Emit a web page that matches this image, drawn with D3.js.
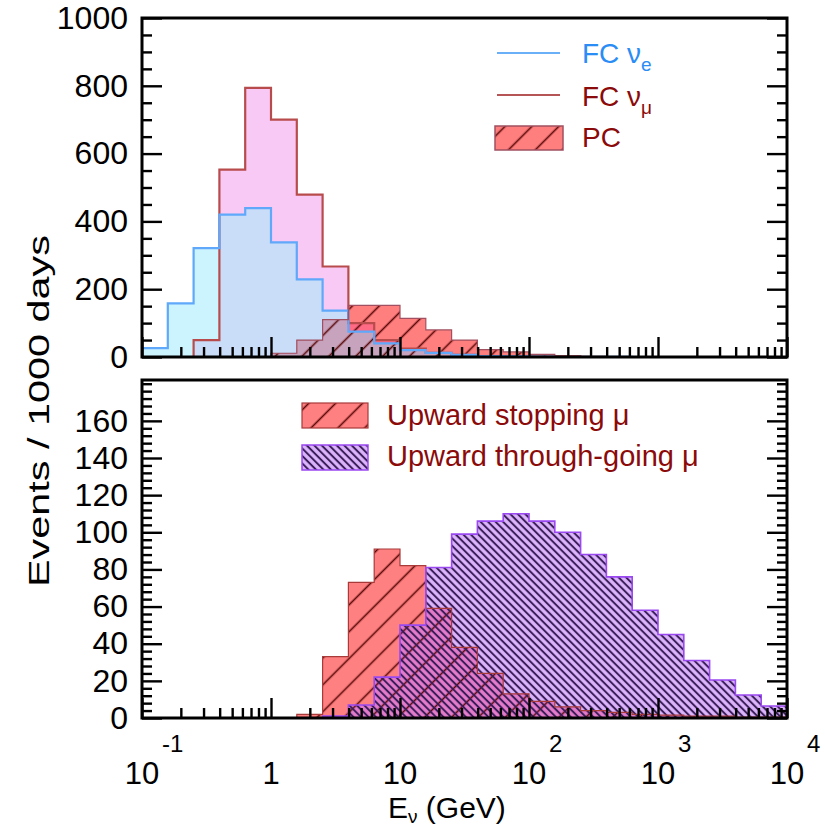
<!DOCTYPE html>
<html><head><meta charset="utf-8">
<script src="https://cdn.jsdelivr.net/npm/d3@7"></script>
<style>body{margin:0;background:#fff}svg{display:block}text{font-family:"Liberation Sans",Arial,Helvetica,sans-serif}</style>
</head><body>
<svg id="c" width="825" height="828"></svg>
<script>
// ---- data ----
const binExp = [-1,-0.8,-0.6,-0.4,-0.2,0,0.2,0.4,0.6,0.8,1,1.2,1.4,1.6,1.8,2,2.2,2.4,2.6,2.8,3,3.2,3.4,3.6,3.8,4];
const fcNuE  = [26,158,321,420,439,338,229,137,75,40,20,12,6,3,2,1,1,0.5,0.5,0,0,0,0,0,0];
const fcNuMu = [0,0,50,553,794,700,479,267,100,50,25,12,6,3,2,1,0.5,0,0,0,0,0,0,0,0];
const pcEv   = [0,0,0,0,0,11,50,110,152,152,114,80,50,22,15,8,4,2,1,0.5,0.5,0,0,0,0];
const upStop = [0,0,0,0,0,0,2,33,73,91,82,59,38,24,13,9,6,4,3,2,1.5,1,1,0.5,0.5];
const upThru = [0,0,0,0,0,0,0,1,7,22,50,81,99,106,110,106,100,88,76,58,45,31,20.5,12.4,6.5];
const topYTicks = [0,200,400,600,800,1000];
const botYTicks = [0,20,40,60,80,100,120,140,160];
const xTickVals = [0.1,1,10,100,1000,10000];
const xTickBase = ["10","1","10","10","10","10"];
const xTickExp  = ["-1","","","2","3","4"];
const topLegend = ["FC ν","FC ν","PC"];
const topLegendSub = ["e","μ",""];
const botLegend = ["Upward stopping μ","Upward through-going μ"];

// ---- layout ----
const svg = d3.select("#c");
const L = 142, R = 787;
const panels = {top:{t:18,b:357,max:1000}, bot:{t:380,b:718,max:182}};
const x = d3.scaleLog().domain([0.1,1e4]).range([L,R]);
const yT = d3.scaleLinear().domain([0,panels.top.max]).range([panels.top.b,panels.top.t]);
const yB = d3.scaleLinear().domain([0,panels.bot.max]).range([panels.bot.b,panels.bot.t]);
const edges = binExp.map(e=>Math.pow(10,e));

function pts(vals){
  const p=[[edges[0],0]];
  vals.forEach((v,i)=>p.push([edges[i],v]));
  p.push([edges[edges.length-1],vals[vals.length-1]]);
  p.push([edges[edges.length-1],0]);
  return p;
}
function areaGen(y){return d3.area().x(d=>x(d[0])).y0(y(0)).y1(d=>y(d[1])).curve(d3.curveStepAfter);}
function lineGen(y){return d3.line().x(d=>x(d[0])).y(d=>y(d[1])).curve(d3.curveStepAfter);}

const defs = svg.append("defs");
function hatch(id, angle, gap, color, w){
  const p = defs.append("pattern").attr("id",id).attr("patternUnits","userSpaceOnUse")
    .attr("width",gap).attr("height",gap).attr("patternTransform",`rotate(${angle})`);
  p.append("line").attr("x1",gap/2).attr("x2",gap/2).attr("y1",-1).attr("y2",gap+1)
    .attr("stroke",color).attr("stroke-width",w);
}
hatch("hPC",45,19,"#5a0808",1.6);
hatch("hStop",45,19,"#5a0808",1.6);
hatch("hThru",-45,5.3,"#3a1d58",2.0);

function clip(id, d){ defs.append("clipPath").attr("id",id).append("path").attr("d",d); }

// ---------- TOP PANEL ----------
const aT = areaGen(yT), lT = lineGen(yT);
const dMu = aT(pts(fcNuMu)), dE = aT(pts(fcNuE)), dPC = aT(pts(pcEv));
clip("cMu",dMu); clip("cE",dE); clip("cPC",dPC);
clip("cTopBox", `M${L},${panels.top.t}H${R}V${panels.top.b}H${L}Z`);
const gT = svg.append("g").attr("clip-path","url(#cTopBox)");
gT.append("path").attr("d",dMu).attr("fill","#f9c9f6");
gT.append("path").attr("d",dE).attr("fill","#ccf4ff");
gT.append("path").attr("d",dE).attr("fill","#c9dcf8").attr("clip-path","url(#cMu)");
gT.append("path").attr("d",dPC).attr("fill","#ff7e7e");
gT.append("g").attr("clip-path","url(#cMu)").append("path").attr("d",dPC).attr("fill","#ff6a84");
gT.append("g").attr("clip-path","url(#cE)").append("path").attr("d",dPC).attr("fill","#c7a3bd");
gT.append("path").attr("d",dPC).attr("fill","url(#hPC)");
gT.append("path").attr("d",lT(pts(fcNuMu))).attr("fill","none").attr("stroke","#b84c4c").attr("stroke-width",2.2);
gT.append("path").attr("d",lT(pts(fcNuE))).attr("fill","none").attr("stroke","#5fa8fa").attr("stroke-width",2.2);
gT.append("path").attr("d",lT(pts(pcEv))).attr("fill","none").attr("stroke","#a05060").attr("stroke-width",1.2);

// ---------- BOTTOM PANEL ----------
const aB = areaGen(yB), lB = lineGen(yB);
const dS = aB(pts(upStop)), dTh = aB(pts(upThru));
clip("cS",dS); clip("cTh",dTh);
const gB = svg.append("g");
gB.append("path").attr("d",dS).attr("fill","#ff8080");
gB.append("path").attr("d",dTh).attr("fill","#dcb5fc");
gB.append("g").attr("clip-path","url(#cS)").append("path").attr("d",dTh).attr("fill","#e47ccb");
gB.append("path").attr("d",dS).attr("fill","url(#hStop)");
gB.append("path").attr("d",dTh).attr("fill","url(#hThru)");
gB.append("path").attr("d",lB(pts(upStop))).attr("fill","none").attr("stroke","#a83a3a").attr("stroke-width",1.2);
gB.append("path").attr("d",lB(pts(upThru))).attr("fill","none").attr("stroke","#9a48f0").attr("stroke-width",1.6);

// ---------- AXES ----------
const minorX = x.ticks().filter(v=>!xTickVals.includes(v));
function axes(y, p, yTicks, minorStep){
  const g = svg.append("g").attr("class","ax");
  g.append("g").attr("transform",`translate(0,${p.b})`)
    .call(d3.axisBottom(x).tickValues(minorX).tickSize(-10).tickFormat(""));
  g.append("g").attr("transform",`translate(0,${p.b})`)
    .call(d3.axisBottom(x).tickValues(xTickVals).tickSize(-20).tickFormat(""));
  const minorY = d3.range(0, p.max+0.001, minorStep).filter(v=>!yTicks.includes(v));
  g.append("g").attr("transform",`translate(${L},0)`)
    .call(d3.axisLeft(y).tickValues(minorY).tickSize(-10).tickFormat(""));
  g.append("g").attr("transform",`translate(${L},0)`)
    .call(d3.axisLeft(y).tickValues(yTicks).tickSize(-20).tickPadding(14).tickFormat(d3.format("d")));
  g.append("g").attr("transform",`translate(${R},0)`)
    .call(d3.axisRight(y).tickValues(minorY).tickSize(-10).tickFormat(""));
  g.append("g").attr("transform",`translate(${R},0)`)
    .call(d3.axisRight(y).tickValues(yTicks).tickSize(-20).tickFormat(""));
  g.selectAll(".domain").remove();
  g.selectAll(".tick line").attr("stroke","#000").attr("stroke-width",2.4);
  g.selectAll(".tick text").attr("font-size",32).attr("fill","#000");
  svg.append("rect").attr("x",L).attr("y",p.t).attr("width",R-L).attr("height",p.b-p.t)
    .attr("fill","none").attr("stroke","#000").attr("stroke-width",3);
}
axes(yT, panels.top, topYTicks, 50);
axes(yB, panels.bot, botYTicks, 4);

// x tick labels
const xl = svg.append("g");
xTickVals.forEach((v,i)=>{
  xl.append("text").attr("x",x(v)).attr("y",784).attr("text-anchor","middle")
    .attr("font-size",31).text(xTickBase[i]);
  if(xTickExp[i]) xl.append("text").attr("x",x(v)+20).attr("y",752).attr("font-size",24).text(xTickExp[i]);
});
// x title
const xt = svg.append("text").attr("x",388).attr("y",818).attr("font-size",30);
xt.append("tspan").text("E");
xt.append("tspan").attr("font-size",19).attr("dy",5).text("ν");
xt.append("tspan").attr("dy",-5).text(" (GeV)");
// y title
svg.append("text").attr("transform","translate(49,411) rotate(-90)").attr("text-anchor","middle")
  .attr("font-size",30).attr("textLength",352).attr("lengthAdjust","spacingAndGlyphs").text("Events / 1000 days");

// ---------- LEGENDS ----------
const lg = svg.append("g");
const topCol = ["#2a8cf5","#8b0a0a","#8b0a0a"];
lg.append("line").attr("x1",497).attr("x2",560).attr("y1",53).attr("y2",53).attr("stroke","#6ab0f8").attr("stroke-width",2);
lg.append("line").attr("x1",497).attr("x2",560).attr("y1",95).attr("y2",95).attr("stroke","#b65555").attr("stroke-width",2);
lg.append("rect").attr("x",495).attr("y",126).attr("width",68).attr("height",24).attr("fill","#ff7e7e");
lg.append("rect").attr("x",495).attr("y",126).attr("width",68).attr("height",24).attr("fill","url(#hPC)").attr("stroke","#a05060").attr("stroke-width",1.5);
[63,106,147].forEach((yy,i)=>{
  const t = lg.append("text").attr("x",582).attr("y",yy).attr("font-size",28).attr("fill",topCol[i]);
  t.append("tspan").text(topLegend[i]);
  if(topLegendSub[i]) t.append("tspan").attr("font-size",19).attr("dy",8).text(topLegendSub[i]);
});
lg.append("rect").attr("x",302).attr("y",403).attr("width",66).attr("height",25).attr("fill","#ff8080");
lg.append("rect").attr("x",302).attr("y",403).attr("width",66).attr("height",25).attr("fill","url(#hStop)").attr("stroke","#a83a3a").attr("stroke-width",1.2);
lg.append("rect").attr("x",302).attr("y",445).attr("width",66).attr("height",25).attr("fill","#dcb5fc");
lg.append("rect").attr("x",302).attr("y",445).attr("width",66).attr("height",25).attr("fill","url(#hThru)").attr("stroke","#9a48f0").attr("stroke-width",1.5);
[425,466].forEach((yy,i)=>{
  lg.append("text").attr("x",387).attr("y",yy).attr("font-size",29).attr("fill","#8b0a0a").text(botLegend[i]);
});
</script>
</body></html>
